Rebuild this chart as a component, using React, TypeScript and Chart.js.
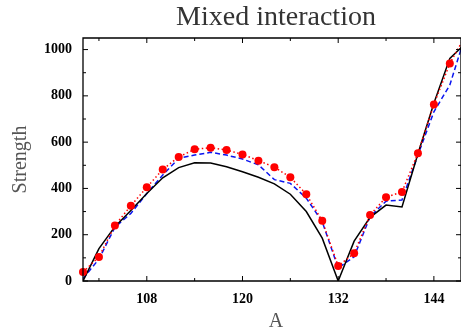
import React, { useEffect, useRef } from "react";
import { Chart, registerables } from "chart.js";

Chart.register(...registerables);

const xValues = [100, 102, 104, 106, 108, 110, 112, 114, 116, 118, 120, 122, 124, 126, 128, 130, 132, 134, 136, 138, 140, 142, 144, 146, 148];
const blackSeries = [0, 140, 235, 305, 378, 446, 490, 511, 510, 494, 472, 448, 420, 375, 300, 185, 0, 172, 275, 328, 320, 550, 768, 962, 1028];
const blueSeries = [10, 95, 232, 292, 378, 458, 530, 544, 556, 544, 527, 502, 438, 422, 358, 256, 56, 105, 278, 345, 350, 545, 731, 847, 1067];
const redSeries = [39, 104, 240, 325, 405, 482, 536, 569, 576, 566, 547, 520, 492, 448, 375, 260, 65, 120, 285, 362, 385, 552, 763, 940, 1063];

const xTickLabels = [108, 120, 132, 144];
const xMinorTicks = [102, 114, 126, 138];
const yTickLabels = [0, 200, 400, 600, 800, 1000];
const yMinorTicks = [100, 300, 500, 700, 900];

const titleText = "Mixed interaction";
const xTitle = "A";
const yTitle = "Strength";

const toPoints = (ys: number[]) => xValues.map((x, i) => ({ x, y: ys[i] }));

const framePlugin = {
  id: "frameTicks",
  afterDatasetsDraw(chart: any) {
    const { ctx, chartArea } = chart;
    const xs = chart.scales.x;
    const ys = chart.scales.y;
    const { left, right, top, bottom } = chartArea;
    ctx.save();
    ctx.strokeStyle = "#000";
    ctx.lineWidth = 1.3;
    ctx.beginPath();
    ctx.rect(left, top, right - left, bottom - top);
    ctx.stroke();
    ctx.lineWidth = 1;
    const vtick = (v: number, len: number) => {
      const px = xs.getPixelForValue(v);
      ctx.moveTo(px, bottom);
      ctx.lineTo(px, bottom - len);
      ctx.moveTo(px, top);
      ctx.lineTo(px, top + len);
    };
    const htick = (v: number, len: number) => {
      const py = ys.getPixelForValue(v);
      ctx.moveTo(left, py);
      ctx.lineTo(left + len, py);
      ctx.moveTo(right, py);
      ctx.lineTo(right - len, py);
    };
    ctx.beginPath();
    xTickLabels.forEach((v) => vtick(v, 5));
    xMinorTicks.forEach((v) => vtick(v, 3));
    yTickLabels.forEach((v) => htick(v, 5));
    yMinorTicks.forEach((v) => htick(v, 3));
    ctx.stroke();
    ctx.restore();
  },
  afterDraw(chart: any) {
    const { ctx, chartArea } = chart;
    const cx = (chartArea.left + chartArea.right) / 2 + 4;
    ctx.save();
    ctx.fillStyle = "#333";
    ctx.font = "28px 'Liberation Serif'";
    ctx.textAlign = "center";
    ctx.textBaseline = "alphabetic";
    ctx.fillText(titleText, cx, 25);
    ctx.fillStyle = "#555";
    ctx.font = "20px 'Liberation Serif'";
    ctx.fillText(xTitle, cx, 327);
    ctx.restore();
  },
};

export default function App() {
  const ref = useRef<HTMLCanvasElement | null>(null);
  useEffect(() => {
    if (!ref.current) return;
    const tickFont = { family: "'Liberation Serif'", weight: "bold" as const, size: 14 };
    const chart = new Chart(ref.current, {
      type: "line",
      data: {
        datasets: [
          {
            label: "red",
            data: toPoints(redSeries),
            borderColor: "#ff0000",
            backgroundColor: "#ff0000",
            borderWidth: 1.5,
            borderDash: [1.5, 2.5],
            pointRadius: 4,
            pointBorderWidth: 0,
            pointBackgroundColor: "#ff0000",
            tension: 0,
            clip: { left: 8, top: 0, right: 0, bottom: 0 },
          },
          {
            label: "black",
            data: toPoints(blackSeries),
            borderColor: "#000000",
            borderWidth: 1.5,
            pointRadius: 0,
            tension: 0,
          },
          {
            label: "blue",
            data: toPoints(blueSeries),
            borderColor: "#0a14f0",
            borderWidth: 1.5,
            borderDash: [5, 3],
            pointRadius: 0,
            tension: 0,
          },
        ],
      },
      options: {
        animation: false,
        responsive: false,
        maintainAspectRatio: false,
        layout: { autoPadding: false, padding: { top: 38, left: 0, right: 0, bottom: 0 } },
        plugins: {
          legend: { display: false },
          tooltip: { enabled: false },
          title: { display: false },
        },
        scales: {
          x: {
            type: "linear",
            min: 100,
            max: 147.4,
            afterBuildTicks: (s: any) => {
              s.ticks = xTickLabels.map((v) => ({ value: v }));
            },
            afterFit: (s: any) => {
              s.height = 53;
              s.paddingRight = 0;
              s.paddingLeft = 0;
            },
            ticks: {
              font: tickFont,
              color: "#000",
              padding: 10,
              maxRotation: 0,
              autoSkip: false,
              callback: (v: any) => String(v),
            },
            grid: { display: false, drawTicks: false },
            border: { display: false },
            title: { display: false },
          },
          y: {
            type: "linear",
            min: 0,
            max: 1050,
            afterBuildTicks: (s: any) => {
              s.ticks = yTickLabels.map((v) => ({ value: v }));
            },
            afterFit: (s: any) => {
              s.width = 83;
            },
            ticks: {
              font: tickFont,
              color: "#000",
              padding: 11,
              autoSkip: false,
              callback: (v: any) => String(v),
            },
            grid: { display: false, drawTicks: false },
            border: { display: false },
            title: {
              display: true,
              text: yTitle,
              color: "#555",
              font: { family: "'Liberation Serif'", size: 20 },
              padding: { top: 9, bottom: 0 },
            },
          },
        },
      },
      plugins: [framePlugin],
    });
    return () => chart.destroy();
  }, []);
  return (
    <div style={{ position: "absolute", left: 0, top: 0, width: 461, height: 334 }}>
      <canvas ref={ref} width={461} height={334} style={{ width: 461, height: 334, display: "block" }} />
    </div>
  );
}
